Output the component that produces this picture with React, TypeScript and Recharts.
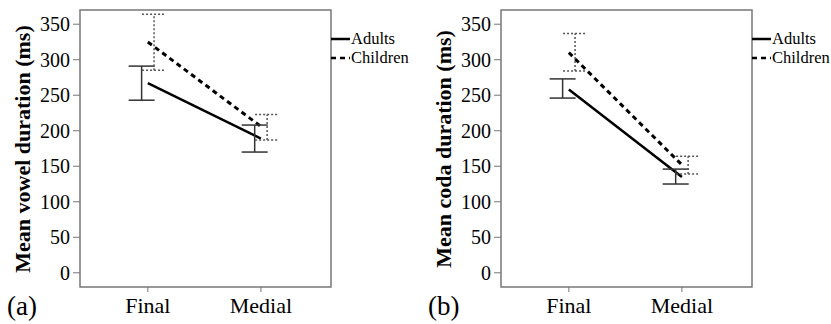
import {
  ComposedChart,
  Line,
  Scatter,
  ErrorBar,
  XAxis,
  YAxis,
  ReferenceArea,
  Legend,
} from 'recharts';

const categories = ['Final', 'Medial'];
const yTicks = [0, 50, 100, 150, 200, 250, 300, 350];
const seriesNames = ['Adults', 'Children'];

// panel (a): vowel duration
const vowelAdults = [267, 189];
const vowelAdultsLow = [243, 170];
const vowelAdultsHigh = [291, 208];
const vowelChildren = [325, 206];
const vowelChildrenLow = [285, 187];
const vowelChildrenHigh = [364, 223];

// panel (b): coda duration
const codaAdults = [258, 135];
const codaAdultsLow = [246, 125];
const codaAdultsHigh = [273, 146];
const codaChildren = [310, 152];
const codaChildrenLow = [284, 139];
const codaChildrenHigh = [337, 164];

const FONT = '"Liberation Serif", "Times New Roman", serif';
const X_DOMAIN: [number, number] = [-0.6, 1.62];
const Y_DOMAIN: [number, number] = [-20, 370];
const DODGE = 0.055;

const toLine = (values: number[]) => values.map((v, i) => ({ x: i, v }));
const toBars = (means: number[], low: number[], high: number[], dodge: number) =>
  means.map((m, i) => ({ x: i + dodge, y: m, err: [m - low[i], high[i] - m] }));

function LegendBox() {
  return (
    <div style={{ fontFamily: FONT, fontSize: 16.5, color: '#000' }}>
      {seriesNames.map((name, i) => (
        <div key={name} style={{ display: 'flex', alignItems: 'center', height: 19, whiteSpace: 'nowrap' }}>
          <svg width={19} height={4} style={{ marginRight: 1 }}>
            <line
              x1={0}
              y1={2}
              x2={19}
              y2={2}
              stroke="#000"
              strokeWidth={2.5}
              strokeDasharray={i === 1 ? '5 4' : undefined}
            />
          </svg>
          <span>{name}</span>
        </div>
      ))}
    </div>
  );
}

interface PanelProps {
  left: number;
  tag: string;
  yLabel: string;
  adults: number[];
  adultsLow: number[];
  adultsHigh: number[];
  kids: number[];
  kidsLow: number[];
  kidsHigh: number[];
}

function Panel({ left, tag, yLabel, adults, adultsLow, adultsHigh, kids, kidsLow, kidsHigh }: PanelProps) {
  return (
    <div style={{ position: 'absolute', left, top: 0, width: 415, height: 324 }}>
      <ComposedChart width={415} height={324} margin={{ top: 10, right: 84, bottom: 0, left: 0 }}>
        <XAxis
          dataKey="x"
          type="number"
          domain={X_DOMAIN}
          allowDataOverflow
          ticks={[0, 1]}
          tickFormatter={(v: number) => categories[v] ?? ''}
          height={37}
          axisLine={false}
          tickLine={{ stroke: '#777' }}
          tickSize={5}
          tickMargin={5}
          tick={{ fontSize: 22, fill: '#000', fontFamily: FONT }}
        />
        <YAxis
          type="number"
          domain={Y_DOMAIN}
          allowDataOverflow
          ticks={yTicks}
          width={80}
          axisLine={false}
          tickLine={{ stroke: '#777' }}
          tickSize={7}
          tickMargin={3}
          tick={{ fontSize: 20, fill: '#000', fontFamily: FONT }}
          label={{
            content: () => (
              <text
                transform="translate(22,149) rotate(-90)"
                textAnchor="middle"
                dominantBaseline="central"
                fontFamily={FONT}
                fontWeight="bold"
                fontSize={22}
                fill="#000"
              >
                {yLabel}
              </text>
            ),
          }}
        />
        <ReferenceArea
          x1={X_DOMAIN[0]}
          x2={X_DOMAIN[1]}
          y1={Y_DOMAIN[0]}
          y2={Y_DOMAIN[1]}
          fill="none"
          stroke="#777"
          strokeWidth={1.5}
          ifOverflow="visible"
        />
        <Line
          data={toLine(adults)}
          dataKey="v"
          name="Adults"
          stroke="#000"
          strokeWidth={2.5}
          dot={false}
          isAnimationActive={false}
        />
        <Line
          data={toLine(kids)}
          dataKey="v"
          name="Children"
          stroke="#000"
          strokeWidth={3}
          strokeDasharray="5 4"
          dot={false}
          isAnimationActive={false}
        />
        <Scatter
          data={toBars(adults, adultsLow, adultsHigh, -DODGE)}
          dataKey="y"
          shape={() => <g />}
          legendType="none"
          isAnimationActive={false}
        >
          <ErrorBar dataKey="err" direction="y" width={13} stroke="#333" strokeWidth={1.5} />
        </Scatter>
        <Scatter
          data={toBars(kids, kidsLow, kidsHigh, DODGE)}
          dataKey="y"
          shape={() => <g />}
          legendType="none"
          isAnimationActive={false}
        >
          <ErrorBar
            dataKey="err"
            direction="y"
            width={12}
            stroke="#555"
            strokeWidth={1.5}
            strokeDasharray="2 2"
          />
        </Scatter>
        <Legend
          layout="vertical"
          align="center"
          verticalAlign="middle"
          content={() => <LegendBox />}
          wrapperStyle={{ position: 'absolute', left: 331, top: 29, width: 100 }}
        />
      </ComposedChart>
      <div
        style={{
          position: 'absolute',
          left: 7,
          top: 291,
          fontFamily: FONT,
          fontSize: 27,
          color: '#000',
          lineHeight: '30px',
        }}
      >
        {tag}
      </div>
    </div>
  );
}

export default function App() {
  return (
    <div style={{ position: 'absolute', left: 0, top: 0, width: 831, height: 324, background: '#fff', overflow: 'hidden' }}>
      <Panel
        left={0}
        tag="(a)"
        yLabel="Mean vowel duration (ms)"
        adults={vowelAdults}
        adultsLow={vowelAdultsLow}
        adultsHigh={vowelAdultsHigh}
        kids={vowelChildren}
        kidsLow={vowelChildrenLow}
        kidsHigh={vowelChildrenHigh}
      />
      <Panel
        left={421}
        tag="(b)"
        yLabel="Mean coda duration (ms)"
        adults={codaAdults}
        adultsLow={codaAdultsLow}
        adultsHigh={codaAdultsHigh}
        kids={codaChildren}
        kidsLow={codaChildrenLow}
        kidsHigh={codaChildrenHigh}
      />
    </div>
  );
}
